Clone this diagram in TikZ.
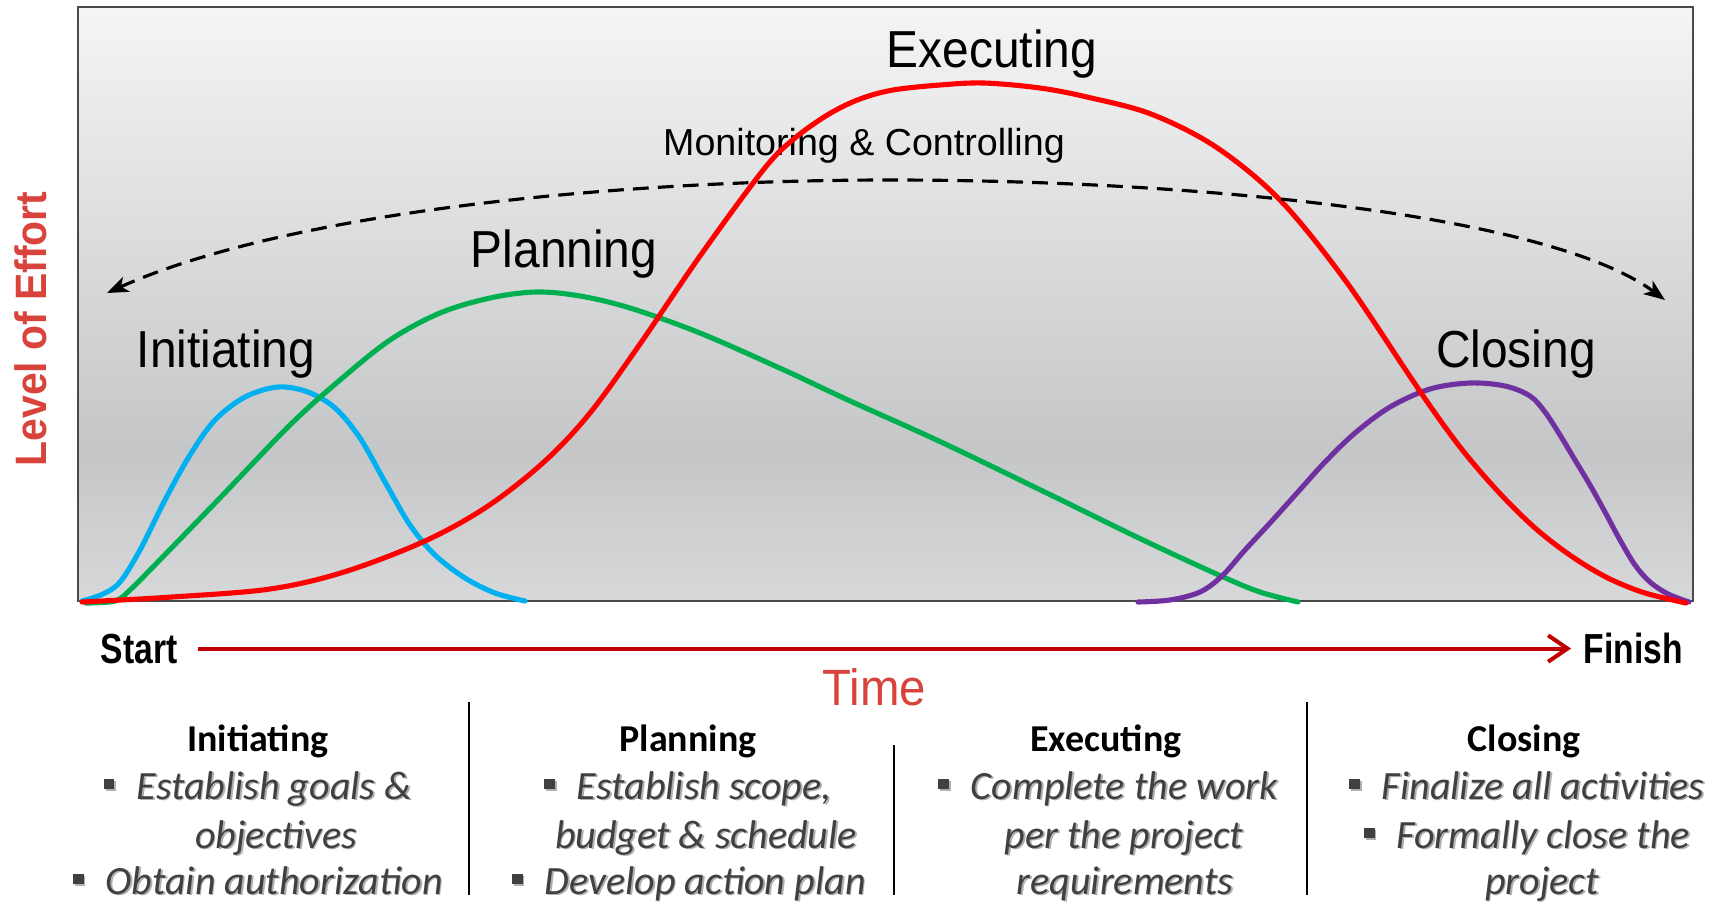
\documentclass[tikz,border=0pt]{standalone}
\usepackage{fontspec}
\usepackage{graphicx}
\setmainfont{Liberation Sans}
\newfontfamily\calfont{Carlito}
\usetikzlibrary{arrows.meta}

% palette
\definecolor{bgtop}{HTML}{F5F5F5}
\definecolor{bgmid}{HTML}{C4C6C8}
\definecolor{bgbot}{HTML}{D6D8DA}
\definecolor{framegrey}{HTML}{4A4A4A}
\definecolor{axisred}{HTML}{D8433B}
\definecolor{timeline}{HTML}{C00000}
\definecolor{initblue}{HTML}{00B0F0}
\definecolor{plangreen}{HTML}{00B050}
\definecolor{execred}{HTML}{FF0000}
\definecolor{closepurple}{HTML}{7030A0}
\definecolor{itemgrey}{HTML}{404040}
\definecolor{itemshadow}{HTML}{B0B0B0}

% chart background: light at the top, darkest a quarter of the way up
\pgfdeclareverticalshading{chartbg}{100bp}{color(0bp)=(bgbot); color(25bp)=(bgbot); color(37.7bp)=(bgmid); color(75bp)=(bgtop); color(100bp)=(bgtop)}

% item text with a soft drop shadow
\newcommand\shd[1]{\leavevmode\rlap{\kern0.5pt\raisebox{-0.5pt}{\textcolor{itemshadow}{#1}}}#1}
\newcommand\bul{\shd{\rule[0.24em]{0.26em}{0.26em}}\hspace{0.55em}}
\newcommand\narrow[2]{\scalebox{#1}[1]{#2}}

\tikzset{
  phase/.style={font=\fontsize{14.8}{17}\selectfont, anchor=base, inner sep=0pt},
  effort/.style={line width=1.45pt, line join=round, line cap=round, smooth, tension=0.55},
  endlabel/.style={font=\bfseries\fontsize{11.95}{14}\selectfont, anchor=base west, inner sep=0pt},
  timearrow/.style={draw=timeline, line width=1.14pt, -{Straight Barb[length=5.5pt, width=7.5pt]}},
  cyclearrow/.style={line width=0.9pt, dash pattern=on 4.5pt off 2.6pt, {Stealth[length=6pt, width=4.6pt, inset=1.6pt]}-{Stealth[length=6pt, width=4.6pt, inset=1.6pt]}},
  coltitle/.style={font=\calfont\bfseries\fontsize{10.8}{13}\selectfont, anchor=base, inner sep=0pt},
  colitem/.style={font=\calfont\itshape\fontsize{11.4}{13}\selectfont, text=itemgrey, anchor=base, inner sep=0pt},
  divider/.style={line width=0.6pt, black},
}

\begin{document}
\begin{tikzpicture}[x=0.01cm, y=-0.01cm]
\useasboundingbox (0,0) rectangle (1711,902);

% chart area
\shade[shading=chartbg] (78,7) rectangle (1693,601);
\draw[framegrey, line width=0.7pt] (78,7) rectangle (1693,601);

% axis and phase labels
\node[rotate=90, font=\bfseries\fontsize{12.5}{14}\selectfont, text=axisred, inner sep=0pt] (effort) at (31,329) {\narrow{0.93}{Level of Effort}};
\node[font=\fontsize{10.7}{13}\selectfont, anchor=base, inner sep=0pt] (mc) at (864,155) {Monitoring \& Controlling};
\node[phase] (lexec) at (992,67) {\narrow{0.92}{Executing}};
\node[phase] (lplan) at (564,267) {\narrow{0.92}{Planning}};
\node[phase] (linit) at (226,367) {\narrow{0.92}{Initiating}};
\node[phase] (lclose) at (1516,367) {\narrow{0.92}{Closing}};

% effort curves
\draw[effort, initblue] plot coordinates {(82,601) (103,594) (120,582) (140,550) (165,500) (190,455) (215,420) (245,397) (278,387) (308,392) (335,408) (360,438) (385,482) (410,525) (435,555) (465,578) (495,593) (525,601)};
\draw[effort, plangreen] plot coordinates {(86,603) (115,601) (130,590) (150,570) (218,500) (290,425) (340,380) (390,340) (440,313) (490,298) (536,292) (580,296) (630,308) (700,333) (784,370) (848,400) (941,442) (1055,497) (1143,540) (1221,576) (1260,592) (1298,602)};
\draw[effort, closepurple] plot coordinates {(1138,602) (1170,600) (1200,592) (1222,576) (1245,550) (1270,523) (1297,493) (1325,462) (1355,433) (1390,407) (1430,389) (1470,383) (1505,386) (1530,396) (1545,412) (1560,435) (1575,460) (1590,485) (1605,512) (1620,540) (1635,565) (1650,582) (1668,594) (1689,602)};
\draw[effort, execred] plot coordinates {(82,602) (172,597) (270,589) (344,572) (425,541) (488,506) (545,461) (590,413) (640,344) (700,256) (764,169) (795,138) (829,114) (860,99) (893,90) (940,85) (984,83) (1040,88) (1087,97) (1151,114) (1216,147) (1280,200) (1345,280) (1409,375) (1435,413) (1460,447) (1485,477) (1510,504) (1535,528) (1560,548) (1585,565) (1612,580) (1645,593) (1686,603)};

% monitoring & controlling spans the whole project
\coordinate (mcL) at (107,293);
\coordinate (mcR) at (1665,300);
\draw[cyclearrow] (mcL) .. controls (280,215) and (600,180) .. (890,180) .. controls (1200,180) and (1550,215) .. (mcR);

% time axis
\node[endlabel] (start) at (100,663) {\narrow{0.8}{Start}};
\node[endlabel] (finish) at (1583,663) {\narrow{0.8}{Finish}};
\draw[timearrow, shorten <=5.7pt, shorten >=3.4pt] (start.east) -- (start.east -| finish.west);
\node[font=\fontsize{14.5}{17}\selectfont, text=axisred, anchor=base, inner sep=0pt] (time) at (874.5,705) {\narrow{0.93}{Time}};

% column separators
\coordinate (d1t) at (469,702); \coordinate (d1b) at (469,895);
\coordinate (d2t) at (894,745); \coordinate (d2b) at (894,895);
\coordinate (d3t) at (1307,702); \coordinate (d3b) at (1307,895);
\draw[divider] (d1t) -- (d1b);
\draw[divider] (d2t) -- (d2b);
\draw[divider] (d3t) -- (d3b);

% phase summaries
\node[coltitle] (tinit) at (258,751) {Initiating};
\node[colitem] (i1a) at (258,799) {\bul\shd{Establish goals \&}};
\node[colitem] (i1b) at (276,848) {\shd{objectives}};
\node[colitem] (i1c) at (258,894) {\bul\shd{Obtain authorization}};

\node[coltitle] (tplan) at (688,751) {Planning};
\node[colitem] (i2a) at (688,799) {\bul\shd{Establish scope,}};
\node[colitem] (i2b) at (706,848) {\shd{budget \& schedule}};
\node[colitem] (i2c) at (689,894) {\bul\shd{Develop action plan}};

\node[coltitle] (texec) at (1106,751) {Executing};
\node[colitem] (i3a) at (1108,799) {\bul\shd{Complete the work}};
\node[colitem] (i3b) at (1124,848) {\shd{per the project}};
\node[colitem] (i3c) at (1125,894) {\shd{requirements}};

\node[coltitle] (tclose) at (1524,751) {Closing};
\node[colitem] (i4a) at (1527,799) {\bul\shd{Finalize all activities}};
\node[colitem] (i4b) at (1527,848) {\bul\shd{Formally close the}};
\node[colitem] (i4c) at (1542,894) {\shd{project}};
\end{tikzpicture}
\end{document}
